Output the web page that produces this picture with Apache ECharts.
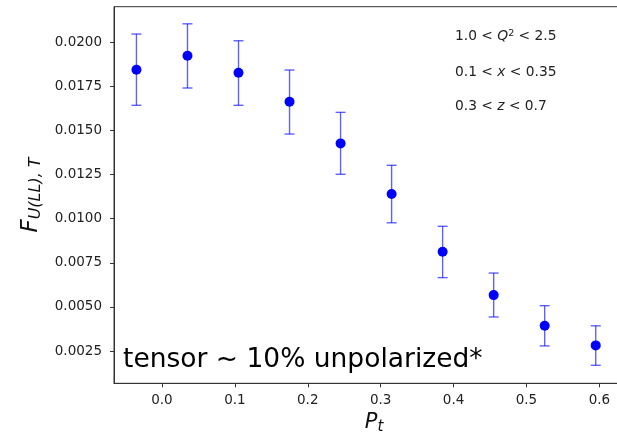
<!DOCTYPE html>
<html><head><meta charset="utf-8">
<script src="https://cdn.jsdelivr.net/npm/echarts@6/dist/echarts.min.js"></script>
<style>html,body{margin:0;padding:0;background:#fff}#c{width:617px;height:433px}</style>
</head><body><div id="c"></div>
<script>
const ptValues = [-0.035, 0.035, 0.105, 0.175, 0.245, 0.315, 0.385, 0.455, 0.525, 0.595];
const fValues  = [0.01845, 0.01924, 0.01828, 0.01663, 0.01427, 0.01140, 0.00813, 0.00567, 0.00393, 0.00282];
const errLow   = [0.01643, 0.01741, 0.01643, 0.01480, 0.01252, 0.00977, 0.00666, 0.00443, 0.00279, 0.00169];
const errHigh  = [0.02047, 0.02105, 0.02009, 0.01843, 0.01603, 0.01303, 0.00957, 0.00692, 0.00507, 0.00393];
const xTicks = [0.0, 0.1, 0.2, 0.3, 0.4, 0.5, 0.6];
const yTicks = [0.0025, 0.0050, 0.0075, 0.0100, 0.0125, 0.0150, 0.0175, 0.0200];
const cutLines = ['1.0 < {i|Q}{sup|2} < 2.5', '0.1 < {i|x} < 0.35', '0.3 < {i|z} < 0.7'];
const noteText = 'tensor ~ 10% unpolarized*';

const chart = echarts.init(document.getElementById('c'), null, {renderer: 'canvas'});
const tickFont = 'DejaVu Sans';
const axisCol = '#333';

const cutGraphics = cutLines.map((t, i) => ({
  type: 'text', left: 455, top: [28.5, 65, 99][i],
  style: {
    text: t, font: '13.8px DejaVu Sans', fill: '#222',
    rich: {
      i: {fontStyle: 'italic', fontSize: 13.8, fontFamily: 'DejaVu Sans', fill: '#222'},
      sup: {fontSize: 9.5, fontFamily: 'DejaVu Sans', fill: '#222', padding: [0, 0, 5, 0]}
    }
  }
}));

chart.setOption({
  animation: false,
  grid: {left: 114, top: 6.7, width: 520, height: 376.6, show: true, borderColor: axisCol, borderWidth: 1,
         backgroundColor: 'transparent', containLabel: false, outerBoundsMode: 'none'},
  xAxis: {
    type: 'value', min: -0.0658, max: 0.6475,
    axisLine: {show: true, onZero: false, lineStyle: {color: axisCol, width: 1}},
    axisTick: {show: true, inside: false, length: 4, lineStyle: {color: axisCol}, customValues: xTicks},
    axisLabel: {customValues: xTicks, formatter: v => v.toFixed(1), fontFamily: tickFont, fontSize: 13.5, color: '#222', margin: 10},
    splitLine: {show: false},
    name: '{p|P}{s|t}', nameLocation: 'middle', nameGap: 27,
    nameTextStyle: {
      rich: {
        p: {fontFamily: 'DejaVu Sans', fontStyle: 'italic', fontSize: 21, color: '#111'},
        s: {fontFamily: 'DejaVu Sans', fontStyle: 'italic', fontSize: 15, color: '#111', padding: [8, 0, 0, 0]}
      }
    }
  },
  yAxis: {
    type: 'value', min: 0.00067, max: 0.02202,
    axisLine: {show: true, onZero: false, lineStyle: {color: axisCol, width: 1}},
    axisTick: {show: true, inside: false, length: 4, lineStyle: {color: axisCol}, customValues: yTicks},
    axisLabel: {customValues: yTicks, formatter: v => v.toFixed(4), fontFamily: tickFont, fontSize: 13.5, color: '#222', margin: 12},
    splitLine: {show: false},
    name: '{f|F}{s|U(LL), T}', nameLocation: 'middle', nameRotate: 90, nameGap: 68,
    nameTextStyle: {
      rich: {
        f: {fontFamily: 'DejaVu Sans', fontStyle: 'italic', fontSize: 23, color: '#111'},
        s: {fontFamily: 'DejaVu Sans', fontStyle: 'italic', fontSize: 16, color: '#111', padding: [9, 0, 0, 0]}
      }
    }
  },
  graphic: cutGraphics.concat([{
    type: 'text', left: 123, top: 347,
    style: {text: noteText, font: '26.5px DejaVu Sans', fill: '#000'}
  }]),
  series: [
    {
      type: 'custom',
      data: ptValues.map((x, i) => [x, errLow[i], errHigh[i]]),
      encode: {x: 0, y: [1, 2]},
      renderItem: function (params, api) {
        const x = api.value(0);
        const pLo = api.coord([x, api.value(1)]);
        const pHi = api.coord([x, api.value(2)]);
        const w = 5;
        const st = {stroke: 'rgba(0,0,255,0.62)', lineWidth: 1.4, fill: null};
        return {type: 'group', children: [
          {type: 'line', shape: {x1: pLo[0], y1: pLo[1], x2: pHi[0], y2: pHi[1]}, style: st},
          {type: 'line', shape: {x1: pLo[0] - w, y1: pLo[1], x2: pLo[0] + w, y2: pLo[1]}, style: st},
          {type: 'line', shape: {x1: pHi[0] - w, y1: pHi[1], x2: pHi[0] + w, y2: pHi[1]}, style: st}
        ]};
      },
      z: 2
    },
    {
      type: 'scatter',
      data: ptValues.map((x, i) => [x, fValues[i]]),
      symbol: 'circle', symbolSize: 10,
      itemStyle: {color: '#0000ff', opacity: 1},
      z: 3
    }
  ]
});
</script>
</body></html>
